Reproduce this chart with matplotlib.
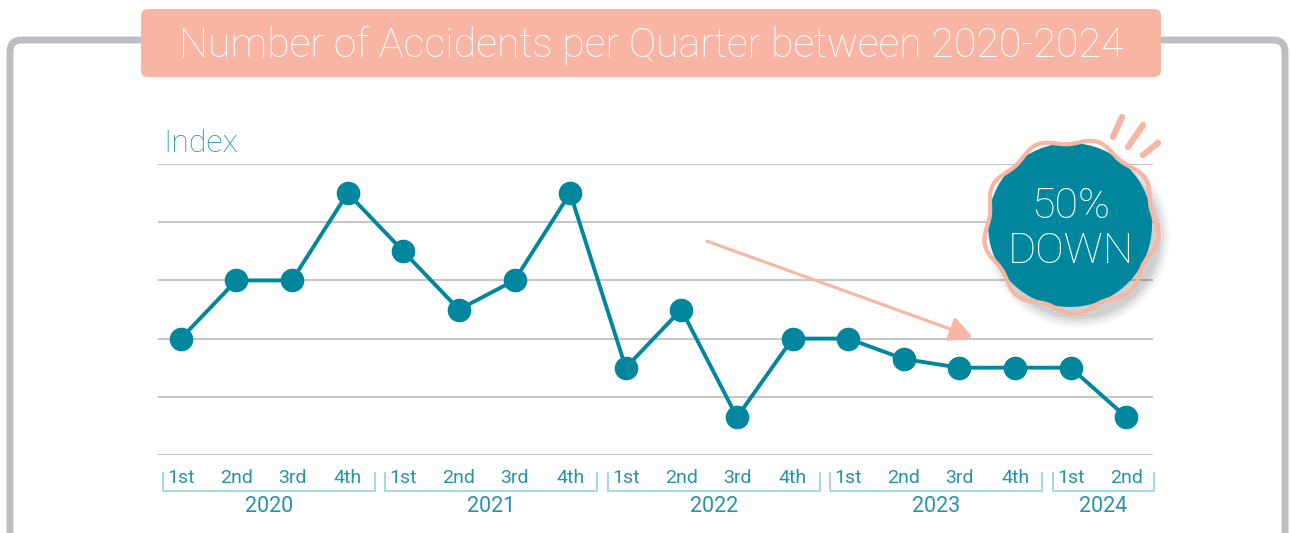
import numpy as np
import matplotlib.pyplot as plt
from matplotlib.patches import FancyBboxPatch, Circle

# Accident index per quarter, 2020 Q1 .. 2024 Q2
quarters = ['1st', '2nd', '3rd', '4th'] * 4 + ['1st', '2nd']
years = ['2020', '2021', '2022', '2023', '2024']
quarters_per_year = [4, 4, 4, 4, 2]
accidents = [40, 60, 60, 90, 70, 50, 60, 90, 30, 50, 13, 40, 40, 33, 30, 30, 30, 13]
grid_levels = [0, 20, 40, 60, 80, 100]

teal = '#00879e'
text_teal = '#2593a9'
salmon = '#f9b5a3'
frame_gray = '#bdbec1'
grid_gray = '#c6c6c8'
bracket_blue = '#a8d9e2'

plt.rcParams['font.family'] = ['Roboto', 'DejaVu Sans']

W, H = 1290, 533
fig = plt.figure(figsize=(W / 100, H / 100), dpi=100)

# background layer in pixel units: frame and title box
bg = fig.add_axes([0, 0, 1, 1], zorder=0)
bg.set_xlim(0, W)
bg.set_ylim(H, 0)
bg.axis('off')

bg.add_patch(FancyBboxPatch((10, 40), 1275, 600, boxstyle='round,pad=0,rounding_size=12',
                            fill=False, ec=frame_gray, lw=5))
bg.add_patch(FancyBboxPatch((141, 9), 1020, 68, boxstyle='round,pad=0,rounding_size=7',
                            fc=salmon, ec='none'))
bg.text(651, 57, 'Number of Accidents per Quarter between 2020-2024', color='white',
        fontsize=29.5, fontweight='light', ha='center', va='baseline')

# main chart
ax = fig.add_axes([158 / W, (H - 455) / H, 995 / W, 291 / H], zorder=1)
ax.set_xlim(-0.41, 17.48)
ax.set_ylim(0, 100)
ax.patch.set_alpha(0)
for s in ax.spines.values():
    s.set_visible(False)
ax.set_xticks([])
ax.set_yticks([])

for g in grid_levels:
    ax.axhline(g, color=grid_gray, lw=1.5, zorder=1)

x = np.arange(len(accidents))
ax.plot(x, accidents, color=teal, lw=2.8, marker='o', ms=16, clip_on=False, zorder=3)

ax.text(0.005, 1.041, 'Index', transform=ax.transAxes, color=text_teal,
        fontsize=23, fontweight='light', ha='left', va='baseline')

# quarter labels and year brackets
xt = ax.get_xaxis_transform()
for i, q in enumerate(quarters):
    ax.text(i, -0.097, q, transform=xt, color=text_teal, fontsize=14,
            ha='center', va='baseline')

start = 0
for yr, n in zip(years, quarters_per_year):
    x0, x1 = start - 0.32, start + n - 1 + 0.49
    ax.plot([x0, x0, x1, x1], [-0.062, -0.124, -0.124, -0.062], transform=xt,
            color=bracket_blue, lw=1.5, clip_on=False)
    ax.text((x0 + x1) / 2, -0.195, yr, transform=xt, color=text_teal, fontsize=15.5,
            ha='center', va='baseline')
    start += n

# downward trend arrow
ax.annotate('', xy=(14.24, 40.5), xytext=(9.46, 73.5),
            arrowprops=dict(arrowstyle='-|>,head_length=0.7,head_width=0.38', color=salmon,
                            lw=2.2, shrinkA=0, shrinkB=0, mutation_scale=20), zorder=2)

# badge layer on top
fg = fig.add_axes([0, 0, 1, 1], zorder=2)
fg.set_xlim(0, W)
fg.set_ylim(H, 0)
fg.axis('off')
fg.patch.set_alpha(0)

cx, cy = 1071, 226
for r, a in [(92, 0.03), (89, 0.04), (86, 0.05), (83, 0.07)]:
    fg.add_patch(Circle((cx + 7, cy + 10), r, fc='black', ec='none', alpha=a))
fg.add_patch(Circle((cx - 1, cy - 1), 82, fc=teal, ec='none'))
th = np.linspace(0, 2 * np.pi, 500)
rw = 85 + 3.2 * np.sin(9 * th + 0.4)
fg.plot(cx + rw * np.cos(th), cy + rw * np.sin(th), color=salmon, lw=3)

for (xa, ya), (xb, yb) in [((1113, 137), (1122, 117)), ((1128, 147), (1143, 125)),
                           ((1143, 155), (1158, 143))]:
    fg.plot([xa, xb], [ya, yb], color=salmon, lw=4.5, solid_capstyle='round')

fg.text(cx, 218, '50%', color='white', fontsize=31, fontweight='light', ha='center', va='baseline')
fg.text(cx, 263, 'DOWN', color='white', fontsize=31, fontweight='light', ha='center', va='baseline')

fig.savefig('out.png', dpi=100)
